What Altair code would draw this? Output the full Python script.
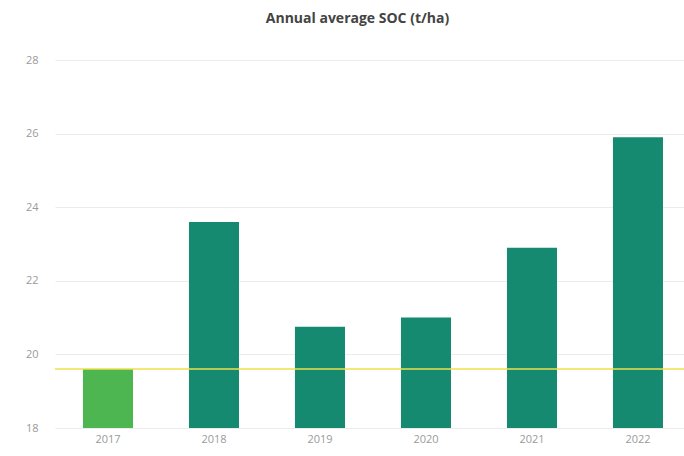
import altair as alt
import pandas as pd

years = ["2017", "2018", "2019", "2020", "2021", "2022"]
soc = [19.6, 23.6, 20.75, 21.0, 22.9, 25.9]
groups = ["base", "later", "later", "later", "later", "later"]
group_names = ["base", "later"]
group_colors = ["#4db650", "#168a70"]
baseline_value = [19.6]
y_ticks = [18, 20, 22, 24, 26, 28]

df = pd.DataFrame({"year": years, "soc": soc, "group": groups})
base_df = pd.DataFrame({"v": baseline_value})

font = "Open Sans"

x_enc = alt.X("year:N", sort=years, title=None,
              scale=alt.Scale(paddingInner=0.528, paddingOuter=0.231, align=0.571),
              axis=alt.Axis(labelAngle=0, ticks=False, domain=False, grid=False,
                            labelColor="#9a9a9a", labelFontSize=11, labelFont=font,
                            labelPadding=5))
y_scale = alt.Scale(domain=[18, 28], zero=False, nice=False)
y_axis = alt.Axis(values=y_ticks, ticks=False, domain=False,
                  gridColor="#ececec", gridWidth=1,
                  labelColor="#9a9a9a", labelFontSize=11, labelFont=font,
                  labelPadding=17)

bars = alt.Chart(df).mark_bar().encode(
    x=x_enc,
    y=alt.Y("soc:Q", scale=y_scale, title=None, axis=y_axis),
    y2=alt.Y2(datum=18),
    color=alt.Color("group:N", scale=alt.Scale(domain=group_names, range=group_colors),
                    legend=None),
)

rule = alt.Chart(base_df).mark_rule(color="#ede04a", strokeWidth=1.5).encode(
    y=alt.Y("v:Q", scale=y_scale, title=None, axis=y_axis)
)

chart = alt.layer(bars, rule).properties(
    width=629,
    height=368,
    background="white",
    autosize=alt.AutoSizeParams(type="none"),
    padding={"left": 55, "top": 60, "right": 0, "bottom": 28},
    title=alt.TitleParams("Annual average SOC (t/ha)", anchor="middle", offset=28,
                          fontSize=14, fontWeight="bold", color="#444444",
                          font=font, dx=-12),
).configure_view(strokeWidth=0, stroke="transparent").configure_axis(
    domain=False, ticks=False
)

chart.save("out.html", embed_options={"renderer": "svg", "actions": False})
